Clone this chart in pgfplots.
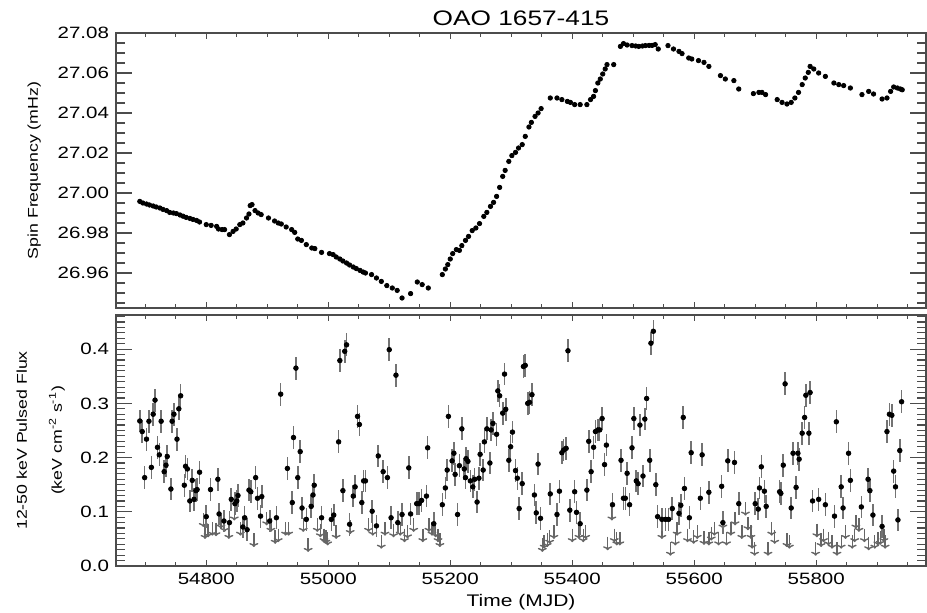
\documentclass[border=0pt]{standalone}
\usepackage{fontspec}
\setmainfont{Liberation Sans}[FakeStretch=1.25]
\usepackage{pgfplots}
\pgfplotsset{compat=1.18}
\usepackage{pgfplotstable}
\usetikzlibrary{arrows.meta}

\pgfplotstableread{
x y
54691 26.9958
54696 26.9950
54702 26.9945
54707 26.9940
54713 26.9935
54718 26.9930
54724 26.9925
54729 26.9918
54735 26.9912
54740 26.9903
54746 26.9900
54751 26.9897
54757 26.9890
54762 26.9884
54767 26.9878
54773 26.9873
54778 26.9868
54784 26.9863
54789 26.9855
54800 26.9842
54808 26.9838
54817 26.9833
54820 26.9820
54826 26.9817
54830 26.9817
54838 26.9792
54844 26.9808
54849 26.9820
54855 26.9842
54860 26.9850
54866 26.9875
54870 26.9895
54872 26.9937
54875 26.9942
54880 26.9912
54885 26.9900
54890 26.9892
54902 26.9875
54912 26.9860
54918 26.9850
54923 26.9845
54931 26.9830
54940 26.9817
54945 26.9803
54950 26.9770
54956 26.9763
54964 26.9742
54973 26.9725
54978 26.9722
54989 26.9703
55002 26.9697
55008 26.9692
55013 26.9680
55019 26.9670
55024 26.9660
55030 26.9650
55035 26.9640
55041 26.9630
55046 26.9622
55052 26.9613
55057 26.9605
55061 26.9600
55071 26.9592
55079 26.9575
55087 26.9558
55096 26.9537
55105 26.9525
55113 26.9513
55121 26.9475
55135 26.9497
55146 26.9555
55154 26.9542
55164 26.9525
55187 26.9592
55192 26.9620
55196 26.9642
55200 26.9670
55204 26.9697
55210 26.9717
55215 26.9713
55219 26.9737
55225 26.9763
55230 26.9783
55236 26.9812
55242 26.9825
55248 26.9847
55255 26.9883
55260 26.9903
55266 26.9933
55271 26.9953
55276 26.9983
55281 27.0028
55286 27.0083
55290 27.0113
55296 27.0158
55301 27.0187
55307 27.0203
55312 27.0225
55318 27.0242
55323 27.0283
55329 27.0330
55333 27.0353
55339 27.0383
55344 27.0400
55349 27.0422
55364 27.0475
55375 27.0475
55383 27.0467
55392 27.0458
55397 27.0453
55404 27.0442
55413 27.0442
55424 27.0442
55430 27.0467
55435 27.0483
55438 27.0512
55442 27.0550
55446 27.0570
55450 27.0595
55454 27.0620
55457 27.0642
55468 27.0642
55479 27.0733
55484 27.0747
55490 27.0740
55498 27.0737
55504 27.0735
55509 27.0733
55515 27.0735
55520 27.0737
55526 27.0738
55531 27.0738
55536 27.0742
55541 27.0720
55557 27.0737
55566 27.0720
55575 27.0708
55580 27.0697
55591 27.0675
55596 27.0670
55607 27.0662
55616 27.0653
55624 27.0633
55643 27.0587
55651 27.0570
55665 27.0562
55673 27.0520
55697 27.0497
55706 27.0503
55711 27.0503
55717 27.0492
55736 27.0467
55744 27.0453
55752 27.0445
55759 27.0453
55765 27.0475
55771 27.0503
55777 27.0542
55782 27.0575
55787 27.0603
55790 27.0633
55796 27.0620
55804 27.0600
55815 27.0583
55829 27.0550
55837 27.0542
55845 27.0537
55856 27.0525
55875 27.0492
55886 27.0508
55894 27.0495
55908 27.0470
55916 27.0475
55922 27.0508
55927 27.0530
55933 27.0525
55938 27.0520
55941 27.0516
}\spin

\pgfplotstableread{
x y
54691 0.2675
54695 0.248
54699 0.163
54702 0.234
54706 0.267
54710 0.182
54713 0.280
54716 0.306
54720 0.219
54723 0.205
54726 0.267
54731 0.174
54734 0.186
54736 0.202
54742 0.142
54744 0.267
54747 0.280
54752 0.234
54755 0.290
54758 0.314
54764 0.149
54766 0.184
54769 0.179
54773 0.120
54777 0.158
54780 0.123
54783 0.139
54785 0.141
54789 0.173
54800 0.091
54807 0.141
54819 0.160
54821 0.096
54829 0.083
54838 0.080
54841 0.123
54847 0.115
54850 0.120
54852 0.130
54860 0.072
54863 0.089
54867 0.067
54870 0.140
54873 0.137
54881 0.163
54884 0.125
54889 0.092
54891 0.128
54904 0.083
54915 0.089
54922 0.317
54933 0.180
54941 0.117
54943 0.237
54947 0.365
54950 0.163
54954 0.211
54957 0.107
54964 0.086
54972 0.110
54975 0.131
54977 0.149
54989 0.089
55005 0.086
55009 0.094
55017 0.229
55019 0.379
55024 0.139
55027 0.396
55030 0.408
55035 0.077
55041 0.129
55044 0.146
55048 0.276
55051 0.261
55055 0.117
55058 0.157
55061 0.157
55072 0.101
55079 0.074
55082 0.203
55090 0.174
55097 0.163
55100 0.399
55103 0.089
55111 0.352
55114 0.080
55121 0.095
55132 0.181
55135 0.096
55145 0.115
55149 0.115
55153 0.121
55161 0.129
55163 0.218
55173 0.078
55187 0.113
55192 0.144
55195 0.177
55197 0.276
55203 0.194
55206 0.208
55208 0.169
55212 0.095
55215 0.185
55219 0.253
55223 0.179
55225 0.163
55226 0.198
55229 0.193
55233 0.157
55237 0.146
55240 0.160
55244 0.118
55247 0.162
55249 0.206
55254 0.177
55256 0.229
55260 0.253
55265 0.190
55267 0.251
55270 0.263
55276 0.243
55278 0.323
55281 0.314
55286 0.282
55289 0.354
55291 0.289
55296 0.195
55299 0.220
55302 0.247
55307 0.176
55310 0.162
55313 0.106
55318 0.152
55320 0.368
55323 0.370
55327 0.300
55330 0.302
55334 0.316
55338 0.131
55341 0.098
55344 0.188
55348 0.088
55364 0.133
55375 0.095
55379 0.138
55383 0.209
55386 0.214
55390 0.217
55393 0.397
55396 0.103
55404 0.137
55407 0.099
55413 0.078
55424 0.140
55427 0.230
55431 0.174
55435 0.219
55438 0.248
55442 0.251
55445 0.251
55449 0.272
55453 0.187
55456 0.223
55466 0.113
55480 0.195
55484 0.125
55487 0.125
55490 0.171
55494 0.113
55498 0.218
55501 0.272
55505 0.157
55508 0.152
55511 0.260
55516 0.166
55519 0.271
55522 0.309
55527 0.195
55529 0.411
55533 0.433
55537 0.150
55540 0.091
55547 0.086
55553 0.086
55558 0.086
55564 0.106
55575 0.097
55578 0.112
55582 0.274
55584 0.143
55592 0.089
55595 0.209
55610 0.125
55613 0.205
55624 0.136
55645 0.147
55647 0.080
55655 0.194
55666 0.191
55673 0.115
55700 0.115
55705 0.105
55707 0.144
55710 0.183
55715 0.138
55718 0.110
55740 0.137
55742 0.134
55746 0.186
55749 0.336
55759 0.107
55762 0.208
55767 0.145
55770 0.208
55772 0.197
55777 0.245
55781 0.274
55783 0.315
55788 0.245
55790 0.320
55794 0.120
55804 0.123
55815 0.113
55830 0.092
55833 0.266
55841 0.146
55844 0.107
55853 0.208
55856 0.158
55874 0.109
55885 0.160
55888 0.139
55893 0.094
55908 0.073
55916 0.248
55920 0.280
55924 0.278
55927 0.175
55930 0.146
55934 0.085
55937 0.213
55940 0.303
}\flux

\pgfplotstableread{
x y
54795 0.097
54798 0.075
54803 0.078
54810 0.081
54816 0.080
54824 0.094
54830 0.088
54837 0.075
54846 0.109
54856 0.081
54878 0.060
54899 0.100
54906 0.088
54913 0.066
54918 0.069
54930 0.081
54935 0.081
54959 0.088
54967 0.051
54982 0.088
54987 0.078
54993 0.069
54996 0.066
54999 0.063
55013 0.075
55036 0.084
55066 0.088
55073 0.081
55087 0.057
55093 0.081
55107 0.078
55118 0.081
55125 0.069
55130 0.076
55140 0.088
55155 0.069
55165 0.088
55170 0.081
55176 0.078
55180 0.069
55183 0.060
55351 0.051
55354 0.057
55359 0.060
55363 0.066
55370 0.075
55400 0.069
55411 0.075
55418 0.069
55422 0.075
55458 0.054
55465 0.109
55469 0.069
55473 0.063
55478 0.063
55547 0.075
55561 0.044
55569 0.063
55572 0.081
55589 0.069
55599 0.066
55605 0.075
55616 0.064
55624 0.063
55628 0.072
55633 0.081
55640 0.063
55647 0.094
55653 0.063
55660 0.081
55667 0.100
55678 0.075
55684 0.118
55688 0.091
55693 0.075
55695 0.057
55699 0.044
55721 0.044
55727 0.081
55732 0.066
55752 0.060
55756 0.057
55799 0.044
55801 0.078
55808 0.060
55812 0.069
55820 0.063
55826 0.057
55834 0.044
55841 0.057
55848 0.075
55859 0.057
55863 0.069
55865 0.094
55870 0.088
55879 0.069
55886 0.054
55896 0.057
55901 0.063
55905 0.064
55911 0.069
55913 0.057
}\ulim

\begin{document}
\begin{tikzpicture}
\useasboundingbox (0,0) rectangle (463.5pt,306pt);
\pgfplotsset{
  panel/.style={
    scale only axis, width=405pt,
    xmin=54652, xmax=55980,
    xtick={54800,55000,55200,55400,55600,55800},
    minor xtick={54700,54750,54850,54900,54950,55050,55100,55150,55250,55300,55350,55450,55500,55550,55650,55700,55750,55850,55900,55950},
    axis line style={black!70, line width=0.7pt},
    every tick/.style={black!70, line width=0.6pt},
    x tick style={/pgfplots/major tick length=3pt, /pgfplots/minor tick length=1.8pt},
    y tick style={/pgfplots/major tick length=8pt, /pgfplots/minor tick length=4.5pt},
    tick label style={font=\fontsize{8.2pt}{10pt}\selectfont},
    /pgf/number format/assume math mode=true,
    /pgf/number format/set thousands separator={},
    scaled ticks=false,
  }
}
\begin{axis}[panel,
  at={(58pt,152pt)}, anchor=south west, height=137.5pt,
  ymin=26.9425, ymax=27.08,
  ytick={26.96,26.98,27.00,27.02,27.04,27.06,27.08},
  minor ytick={26.945,26.950,26.955,26.965,26.970,26.975,26.985,26.990,26.995,27.005,27.010,27.015,27.025,27.030,27.035,27.045,27.050,27.055,27.065,27.070,27.075},
  yticklabel style={/pgf/number format/.cd, fixed, fixed zerofill, precision=2},
  xticklabels={},
  title={OAO 1657-415},
  title style={font=\fontsize{10.5pt}{12pt}\selectfont, at={(axis description cs:0.5,1)}, anchor=base, yshift=-2.5pt},
  ylabel={Spin Frequency (mHz)},
  ylabel style={font=\fontsize{7.1pt}{8.5pt}\selectfont, at={(axis description cs:-0.101,0.5)}, anchor=center},
]
\addplot[only marks, mark=*, mark size=1.1pt, black] table[x=x,y=y] {\spin};
\end{axis}

\begin{axis}[panel,
  at={(58pt,23pt)}, anchor=south west, height=125.5pt,
  ymin=0, ymax=0.463,
  ytick={0,0.1,0.2,0.3,0.4},
  minor ytick={0.01,0.02,0.03,0.04,0.05,0.06,0.07,0.08,0.09,0.11,0.12,0.13,0.14,0.15,0.16,0.17,0.18,0.19,0.21,0.22,0.23,0.24,0.25,0.26,0.27,0.28,0.29,0.31,0.32,0.33,0.34,0.35,0.36,0.37,0.38,0.39,0.41,0.42,0.43,0.44,0.45,0.46},
  yticklabel style={/pgf/number format/.cd, fixed, fixed zerofill, precision=1},
  xlabel={Time (MJD)},
  xlabel style={font=\fontsize{8.4pt}{10pt}\selectfont, at={(axis description cs:0.5,-0.143)}, anchor=center},
  ylabel={12-50 keV Pulsed Flux\\[9pt](keV cm\textsuperscript{-2} s\textsuperscript{-1})},
  ylabel style={font=\fontsize{7.1pt}{8.5pt}\selectfont, align=center, at={(axis description cs:-0.093,0.5)}, anchor=center},
]
\addplot[quiver={u=0,v=-0.025}, black!60, line width=0.7pt, -{To[length=2pt,width=4.5pt]}] table[x=x,y=y] {\ulim};
\addplot[only marks, mark=*, mark size=1.15pt, black,
  error bars/.cd, y dir=both, y fixed=0.021,
  error bar style={black!55, line width=0.8pt}, error mark=none] table[x=x,y=y] {\flux};
\end{axis}
\end{tikzpicture}
\end{document}
